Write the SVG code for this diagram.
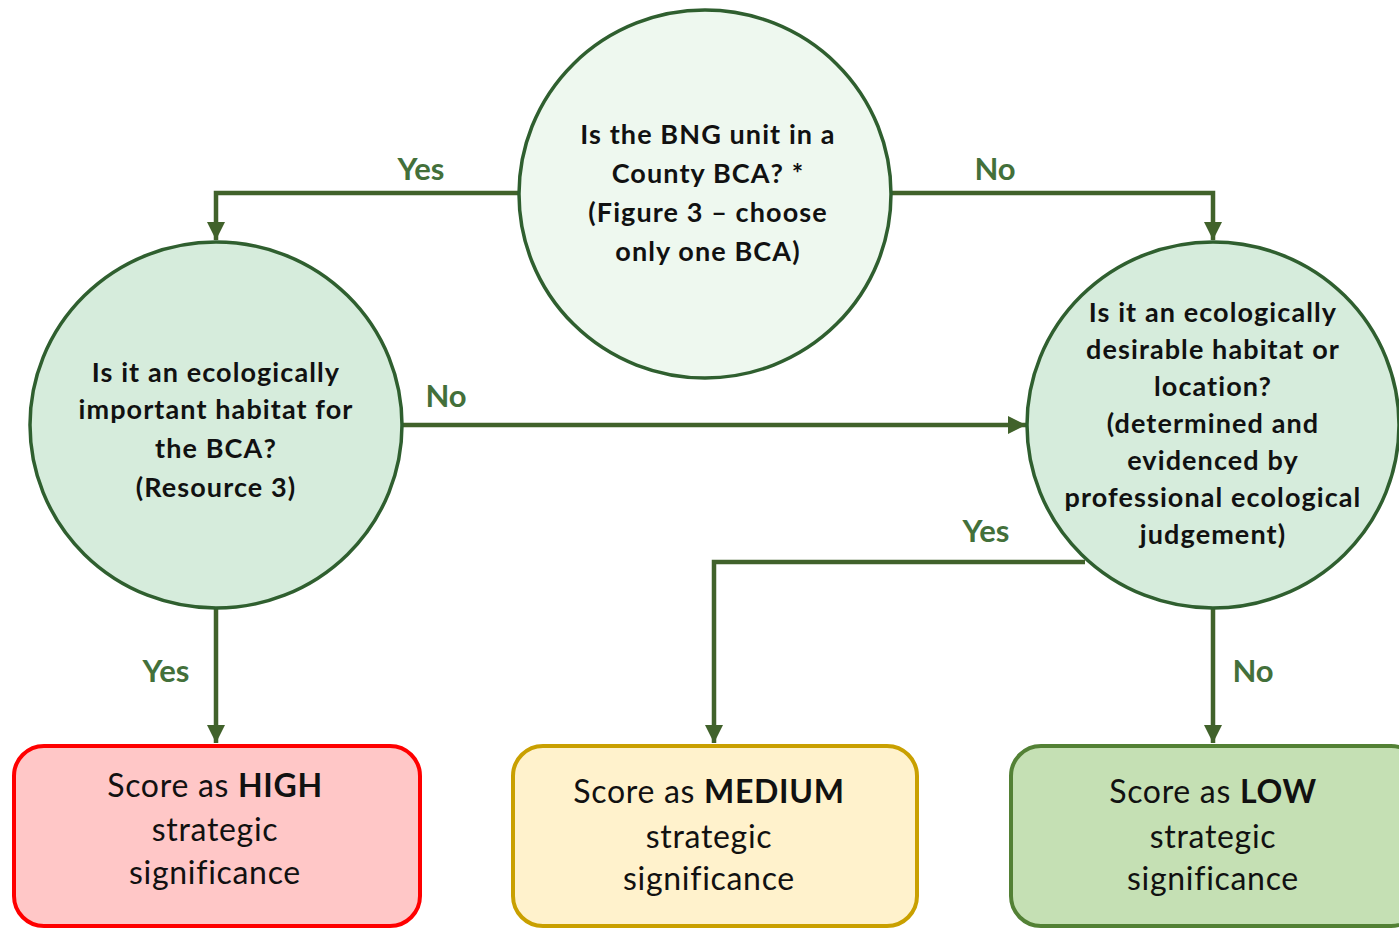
<svg xmlns="http://www.w3.org/2000/svg" width="1399" height="929" viewBox="0 0 1399 929">
<style>
.q{stroke:#2f5f2f;stroke-width:3.5}
.c{fill:none;stroke:#41622b;stroke-width:4.5}
.qt{font-family:Lato,"Open Sans",sans-serif;font-weight:bold;font-size:27px;letter-spacing:1.1px;fill:#111;text-anchor:middle}
.bt{font-family:Lato,"Open Sans",sans-serif;font-size:32px;letter-spacing:0.7px;fill:#111;text-anchor:middle}
.lb{font-family:Lato,"Open Sans",sans-serif;font-weight:bold;font-size:31px;fill:#43703a;text-anchor:middle}
</style>
<defs>
<marker id="ah" viewBox="0 0 10 10" refX="10" refY="5" markerWidth="4" markerHeight="4" markerUnits="strokeWidth" orient="auto">
<path d="M0,0 L10,5 L0,10 z" fill="#41622b"/>
</marker>
</defs>
<rect width="1399" height="929" fill="#fff"/>
<g id="connectors">
<path class="c" d="M519,193 H216 V240" marker-end="url(#ah)"/>
<path class="c" d="M891,193 H1213 V240" marker-end="url(#ah)"/>
<path class="c" d="M402,425 H1026" marker-end="url(#ah)"/>
<path class="c" d="M216,608 V743" marker-end="url(#ah)"/>
<path class="c" d="M1085,562 H714 V743" marker-end="url(#ah)"/>
<path class="c" d="M1213,608 V743" marker-end="url(#ah)"/>
</g>
<g id="labels">
<text class="lb" x="421" y="180">Yes</text>
<text class="lb" x="995" y="180">No</text>
<text class="lb" x="446" y="407">No</text>
<text class="lb" x="986" y="542">Yes</text>
<text class="lb" x="166" y="682">Yes</text>
<text class="lb" x="1253" y="682">No</text>
</g>
<g id="q1">
<ellipse class="q" cx="705" cy="194" rx="186" ry="184" fill="#eef8ef"/>
<text class="qt" x="708" y="144">Is the BNG unit in a</text>
<text class="qt" x="708" y="183">County BCA? *</text>
<text class="qt" x="708" y="222">(Figure 3 – choose</text>
<text class="qt" x="708" y="261">only one BCA)</text>
</g>
<g id="q2">
<ellipse class="q" cx="216" cy="425" rx="186" ry="183" fill="#d6ecdc"/>
<text class="qt" x="216" y="382">Is it an ecologically</text>
<text class="qt" x="216" y="419">important habitat for</text>
<text class="qt" x="216" y="458">the BCA?</text>
<text class="qt" x="216" y="497">(Resource 3)</text>
</g>
<g id="q3">
<ellipse class="q" cx="1213" cy="425" rx="186" ry="183" fill="#d6ecdc"/>
<text class="qt" x="1213" y="322">Is it an ecologically</text>
<text class="qt" x="1213" y="359">desirable habitat or</text>
<text class="qt" x="1213" y="396">location?</text>
<text class="qt" x="1213" y="433">(determined and</text>
<text class="qt" x="1213" y="470">evidenced by</text>
<text class="qt" x="1213" y="507">professional ecological</text>
<text class="qt" x="1213" y="544">judgement)</text>
</g>
<g id="high">
<rect x="14" y="746" width="406" height="180" rx="30" fill="#ffc7c7" stroke="#ff0000" stroke-width="4"/>
<text class="bt" x="215" y="797">Score as <tspan font-weight="bold">HIGH</tspan></text>
<text class="bt" x="215" y="841">strategic</text>
<text class="bt" x="215" y="884">significance</text>
</g>
<g id="medium">
<rect x="513" y="746" width="404" height="180" rx="30" fill="#fff2cc" stroke="#c9a000" stroke-width="4"/>
<text class="bt" x="709" y="803">Score as <tspan font-weight="bold">MEDIUM</tspan></text>
<text class="bt" x="709" y="848">strategic</text>
<text class="bt" x="709" y="890">significance</text>
</g>
<g id="low">
<rect x="1011" y="746" width="410" height="180" rx="30" fill="#c5e0b4" stroke="#538135" stroke-width="4"/>
<text class="bt" x="1213" y="803">Score as <tspan font-weight="bold">LOW</tspan></text>
<text class="bt" x="1213" y="848">strategic</text>
<text class="bt" x="1213" y="890">significance</text>
</g>
</svg>
